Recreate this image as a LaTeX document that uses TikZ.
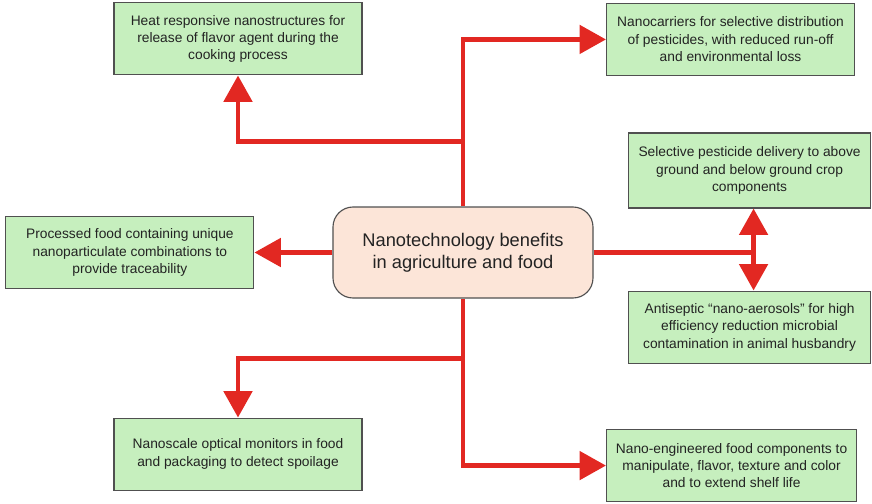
\documentclass[tikz,border=0pt]{standalone}
\usepackage{fontspec}
\setmainfont{Liberation Sans}
\usetikzlibrary{arrows.meta,positioning}
\definecolor{boxgreen}{RGB}{198,239,190}
\definecolor{boxpeach}{RGB}{252,229,216}
\definecolor{linered}{RGB}{226,40,34}
\definecolor{edgegray}{RGB}{80,80,80}
\definecolor{textgray}{RGB}{35,35,35}

\begin{document}
\begin{tikzpicture}[>={Triangle[width=0.7cm,length=0.66cm]}]
        \tikzset{block/.style= {draw=edgegray, fill=boxgreen, rectangle, align=center, text=textgray, line width=0.8pt, inner sep=0pt,
                font=\fontsize{9.8}{12.4}\selectfont, minimum width=6.2cm, minimum height=1.8cm},
        rblock/.style={draw=edgegray, fill=boxpeach, shape=rectangle, rounded corners=0.5cm, align=center, text=textgray, line width=0.8pt,
                font=\fontsize{13}{15.4}\selectfont, minimum width=6.5cm, minimum height=2.275cm},
        link/.style={draw=linered, line width=3.5pt},
        }
        \useasboundingbox (-11.575,-6.2625) rectangle (10.225,6.3125);
        \node [rblock] (benefit) {Nanotechnology benefits\\in agriculture and food};
        \node [block, left =1.95cm of benefit] (trace) {Processed food containing unique\\nanoparticulate combinations to\\provide traceability};
        \node [coordinate, above =4.175cm of benefit] (top) {};  %% top end of the trunk
        \node [coordinate, below =4.175cm of benefit] (bottom) {};  %% bottom end of the trunk
        \node [coordinate, above =1.625cm of benefit] (up) {};  %% branch to the upper left
        \node [coordinate, below =1.5cm of benefit] (down) {};  %% branch to the lower left
        \node [coordinate, left =5.625cm of up] (upleft) {};
        \node [coordinate, left =5.625cm of down] (downleft) {};
        \node [coordinate, right =4cm of benefit] (split) {};  %% fork between the two right boxes
        \node [block, right =3.575cm of top] (carrier) {Nanocarriers for selective distribution\\of pesticides, with reduced run-off\\and environmental loss};
        \node [block, right =3.575cm of bottom, minimum width=6.25cm] (shelf) {Nano-engineered food components to\\manipulate, flavor, texture and color\\and to extend shelf life};
        \node [block, above =1.65cm of upleft] (flavor) {Heat responsive nanostructures for\\release of flavor agent during the\\cooking process};
        \node [block, below =1.475cm of downleft] (monitor) {Nanoscale optical monitors in food\\and packaging to detect spoilage};
        \node [block, above =1.1cm of split, xshift=-0.1cm, minimum width=6.05cm, minimum height=1.875cm] (select) {Selective pesticide delivery to above\\ground and below ground crop\\components};
        \node [block, below =0.95cm of split, xshift=-0.1cm, minimum width=6.05cm] (aerosol) {Antiseptic ``nano-aerosols'' for high\\efficiency reduction microbial\\contamination in animal husbandry};

%% paths
        \path[link,->] (benefit) |- (carrier);
        \path[link,->] (benefit) |- (shelf);
        \path[link,->] (up) -| (flavor);
        \path[link,->] (down) -| (monitor);
        \path[link,->] (benefit) -- (trace);
        \path[link] (benefit) -- (split);
        \path[link,->] (split) -- (split |- select.south);
        \path[link,->] (split) -- (split |- aerosol.north);
    \end{tikzpicture}
\end{document}
